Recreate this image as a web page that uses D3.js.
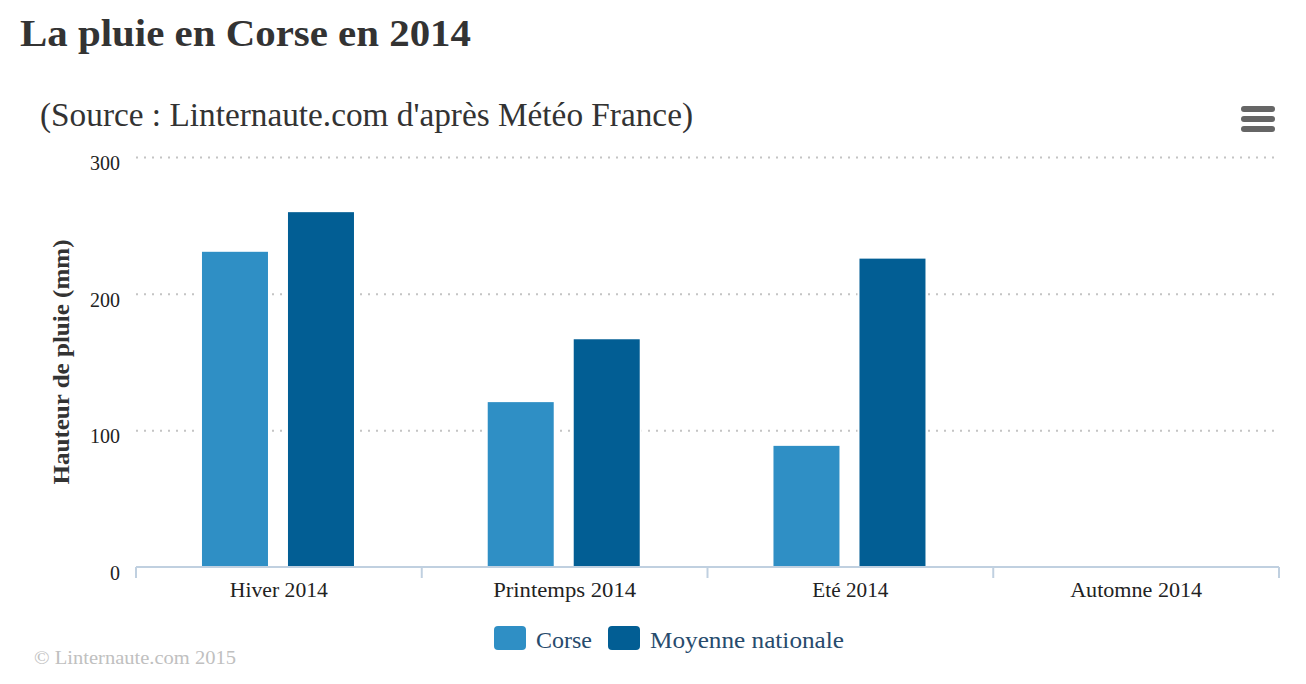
<!DOCTYPE html>
<html><head><meta charset="utf-8">
<script src="https://cdn.jsdelivr.net/npm/d3@7"></script>
<style>html,body{margin:0;padding:0;background:#fff;overflow:hidden}svg{display:block}text{font-family:"Liberation Serif",serif}</style>
</head><body><svg id="c" width="1306" height="684"></svg>
<script>
const categories=["Hiver 2014","Printemps 2014","Eté 2014","Automne 2014"];
const categoryLabelWidths=[98,143,76,132];
const corse=[231,121,89,null];
const nationale=[260,167,226,null];
const seriesNames=["Corse","Moyenne nationale"];
const seriesColors=["#2f8fc5","#025e94"];
const yTicks=[0,100,200,300];
const svg=d3.select("#c");
const x=d3.scaleBand().domain(categories).range([136,1279]);
const y=d3.scaleLinear().domain([0,300]).range([567.5,157.5]);
const inner=d3.scaleBand().domain([0,1]).range([-0.9,x.bandwidth()-0.9]).paddingInner(0.2326).paddingOuter(0.7776);
const fit=(s,w)=>s.attr("textLength",w).attr("lengthAdjust","spacingAndGlyphs");
fit(svg.append("text").attr("x",20).attr("y",46).attr("font-size",38).attr("font-weight","bold").attr("fill","#333").text("La pluie en Corse en 2014"),451);
fit(svg.append("text").attr("x",40).attr("y",126).attr("font-size",33).attr("fill","#333").text("(Source : Linternaute.com d'après Météo France)"),653);
svg.append("g").selectAll("line").data(yTicks.filter(d=>d>0)).join("line").attr("x1",136).attr("x2",1279).attr("y1",d=>y(d)).attr("y2",d=>y(d)).attr("stroke","#c4c4c4").attr("stroke-width",2).attr("stroke-dasharray","2 6");
const gy=svg.append("g").attr("transform","translate(136,0)").call(d3.axisLeft(y).tickValues(yTicks).tickSize(0).tickPadding(16).tickFormat(d3.format("d")));
gy.select(".domain").remove();
gy.selectAll("text").attr("font-size",20).attr("fill","#222").attr("text-anchor","end").attr("dy","0.6em").style("font-family",'"Liberation Serif",serif');
[corse,nationale].forEach((vals,i)=>{
 svg.append("g").selectAll("rect").data(categories.map((c,j)=>({c,v:vals[j]})).filter(d=>d.v!=null)).join("rect")
 .attr("x",d=>x(d.c)+inner(i)).attr("width",inner.bandwidth()).attr("y",d=>y(d.v)).attr("height",d=>y(0)-y(d.v)).attr("fill",seriesColors[i])
 .attr("stroke","#fff").attr("stroke-width",4).style("paint-order","stroke");
});
const gx=svg.append("g").attr("transform","translate(0,567)").call(d3.axisBottom(x).tickSize(0).tickPadding(16));
gx.select(".domain").remove();
gx.selectAll("text").attr("font-size",20).attr("fill","#222").style("font-family",'"Liberation Serif",serif')
 .each(function(d,i){fit(d3.select(this),categoryLabelWidths[i]);});
svg.append("line").attr("x1",136).attr("x2",1279).attr("y1",567).attr("y2",567).attr("stroke","#c0d0e0").attr("stroke-width",2);
svg.append("g").selectAll("line").data([...categories.map(c=>x(c)),x.range()[1]]).join("line").attr("x1",d=>d).attr("x2",d=>d).attr("y1",567).attr("y2",578).attr("stroke","#c0d0e0").attr("stroke-width",2);
fit(svg.append("text").attr("transform","translate(69,362) rotate(-90)").attr("text-anchor","middle").attr("font-size",23).attr("font-weight","bold").attr("fill","#333").text("Hauteur de pluie (mm)"),245);
const lx=[494,608],ltx=[536,650],ltw=[56,194];
seriesNames.forEach((n,i)=>{
 svg.append("rect").attr("x",lx[i]).attr("y",626).attr("width",32).attr("height",24).attr("rx",4).attr("fill",seriesColors[i]);
 fit(svg.append("text").attr("x",ltx[i]).attr("y",648).attr("font-size",24).attr("fill","#274b6d").text(n),ltw[i]);
});
fit(svg.append("text").attr("x",34).attr("y",664).attr("font-size",19).attr("fill","#c0c0c0").text("© Linternaute.com 2015"),202);
[109,119,129].forEach(v=>svg.append("rect").attr("x",1241).attr("y",v-3).attr("width",34).attr("height",6).attr("rx",3).attr("fill","#666"));
</script></body></html>
